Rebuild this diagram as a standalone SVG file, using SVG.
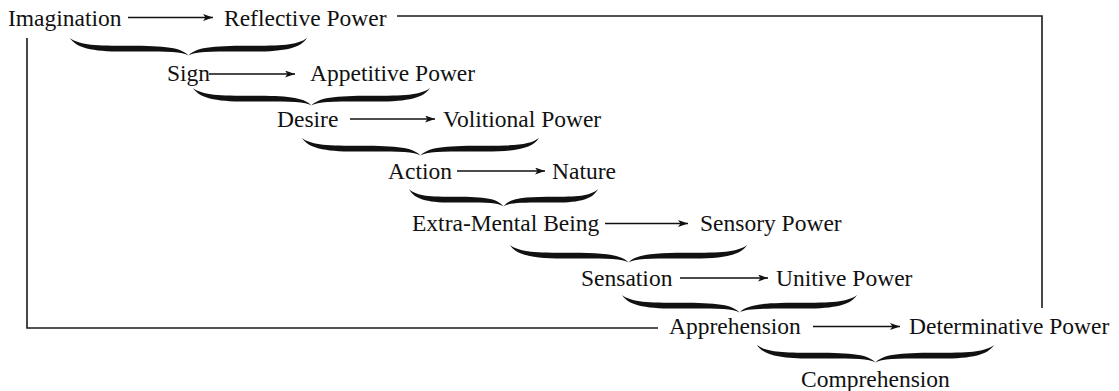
<svg xmlns="http://www.w3.org/2000/svg" width="1119" height="391" viewBox="0 0 1119 391">
<style>
  text { font-family: "Liberation Serif", "Times New Roman", serif; font-size: 23.5px; fill: #111; }
  .arr { stroke: #111; stroke-width: 1.3; fill: none; }
  .line { stroke: #1a1a1a; stroke-width: 1.6; fill: none; }
  .brace { fill: #111; }
</style>
<defs>
  <marker id="ah" markerWidth="11" markerHeight="8" refX="10" refY="3.5" orient="auto" markerUnits="userSpaceOnUse">
    <path d="M0,0 L10,3.5 L0,7 L2.5,3.5 Z" fill="#111"/>
  </marker>
  <path id="brace" d="M0,0 C7,6.5 18,8 45,8 C75,8 93,8.5 100,18 C107,8.5 125,8 155,8 C182,8 193,6.5 200,0 C195,10 182,14 155,14 C125,14 106,13.5 100,18 C94,13.5 75,14 45,14 C18,14 5,10 0,0 Z"/>
</defs>
<rect width="1119" height="391" fill="#fff"/>

<g id="connectors">
  <polyline class="line" points="397,16 1042,16 1042,308"/>
  <polyline class="line" points="27,38 27,328 658,328"/>
  <line class="arr" x1="128" y1="17.5" x2="213" y2="17.5" marker-end="url(#ah)"/>
  <line class="arr" x1="209" y1="74" x2="295" y2="74" marker-end="url(#ah)"/>
  <line class="arr" x1="350" y1="119" x2="435" y2="119" marker-end="url(#ah)"/>
  <line class="arr" x1="457" y1="171" x2="545" y2="171" marker-end="url(#ah)"/>
  <line class="arr" x1="605" y1="223.5" x2="688" y2="223.5" marker-end="url(#ah)"/>
  <line class="arr" x1="680" y1="278" x2="768" y2="278" marker-end="url(#ah)"/>
  <line class="arr" x1="813" y1="326.5" x2="900" y2="326.5" marker-end="url(#ah)"/>
</g>

<g id="braces">
  <use href="#brace" class="brace" transform="translate(70,38) scale(1.185,0.97)"/>
  <use href="#brace" class="brace" transform="translate(193,88) scale(1.185,0.97)"/>
  <use href="#brace" class="brace" transform="translate(302,138) scale(1.185,0.97)"/>
  <use href="#brace" class="brace" transform="translate(409,189) scale(0.945,0.97)"/>
  <use href="#brace" class="brace" transform="translate(510,245) scale(1.185,0.97)"/>
  <use href="#brace" class="brace" transform="translate(622,295) scale(1.175,0.97)"/>
  <use href="#brace" class="brace" transform="translate(757,345) scale(1.185,0.97)"/>
</g>

<g id="imagination"><text x="8" y="26">Imagination</text></g>
<g id="reflective-power"><text x="224" y="26">Reflective Power</text></g>
<g id="sign"><text x="167" y="81">Sign</text></g>
<g id="appetitive-power"><text x="310" y="81">Appetitive Power</text></g>
<g id="desire"><text x="277" y="127">Desire</text></g>
<g id="volitional-power"><text x="443" y="127">Volitional Power</text></g>
<g id="action"><text x="388" y="178.5">Action</text></g>
<g id="nature"><text x="552" y="178.5">Nature</text></g>
<g id="extra-mental-being"><text x="412" y="231">Extra-Mental Being</text></g>
<g id="sensory-power"><text x="700" y="231">Sensory Power</text></g>
<g id="sensation"><text x="581" y="285.5">Sensation</text></g>
<g id="unitive-power"><text x="776" y="285.5">Unitive Power</text></g>
<g id="apprehension"><text x="669" y="334">Apprehension</text></g>
<g id="determinative-power"><text x="909" y="334">Determinative Power</text></g>
<g id="comprehension"><text x="801" y="387">Comprehension</text></g>
</svg>
